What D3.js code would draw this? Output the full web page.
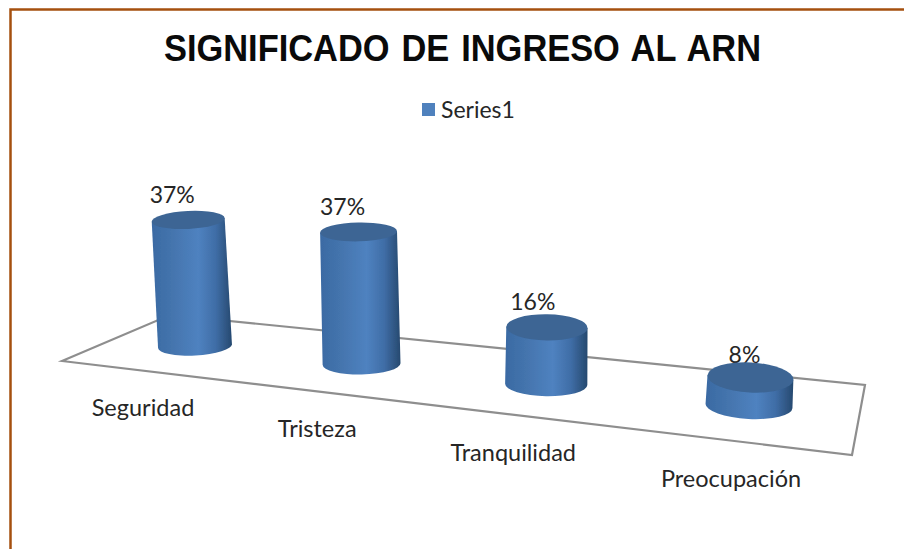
<!DOCTYPE html>
<html>
<head>
<meta charset="utf-8">
<script src="https://cdn.jsdelivr.net/npm/d3@7"></script>
<style>
  html, body { margin: 0; padding: 0; background: #fff; }
  svg { display: block; }
</style>
</head>
<body>
<svg id="chart"></svg>
<script>
const categories = ["Seguridad", "Tristeza", "Tranquilidad", "Preocupación"];
const values = [37, 37, 16, 8];
const seriesName = "Series1";
const chartTitle = "SIGNIFICADO DE INGRESO AL ARN";

const width = 904;
const height = 549;
const labelFont = "Lato, 'Open Sans', sans-serif";

const svg = d3.select("#chart")
  .attr("width", width)
  .attr("height", height);

const defs = svg.append("defs");

// gradient shared by all the cylinder sides
const grad = defs.append("linearGradient")
  .attr("id", "side")
  .attr("x1", 0).attr("x2", 1).attr("y1", 0).attr("y2", 0);
[[0, "#3a6aa3"], [0.25, "#4474ad"], [0.58, "#4f82c0"], [0.8, "#3f6da6"], [1, "#26496f"]].forEach(s => {
  grad.append("stop").attr("offset", s[0]).attr("stop-color", s[1]);
});

// the reference is a soft screenshot
defs.append("filter").attr("id", "soft")
  .append("feGaussianBlur").attr("stdDeviation", 0.5);

// outer frame, only left and top sides show up in the picture
svg.append("path")
  .attr("d", "M10.5,549V9.5H904")
  .attr("fill", "none")
  .attr("stroke", "#a5500f")
  .attr("stroke-width", 2.5);

// title is squeezed sideways in the reference
svg.append("text")
  .attr("x", 462.5).attr("y", 61)
  .attr("text-anchor", "middle")
  .attr("font-family", "'Liberation Sans', Arial, sans-serif")
  .attr("font-weight", "bold")
  .attr("font-size", 36)
  .attr("word-spacing", 2.5)
  .attr("textLength", 597)
  .attr("lengthAdjust", "spacingAndGlyphs")
  .attr("fill", "#0a0a0a")
  .text(chartTitle);

// legend
svg.append("rect")
  .attr("x", 422).attr("y", 103).attr("width", 13).attr("height", 13)
  .attr("fill", "#4f81bd");
svg.append("text")
  .attr("x", 441).attr("y", 118)
  .attr("font-family", labelFont)
  .attr("font-size", 23)
  .attr("fill", "#262626")
  .text(seriesName);

// floor of the 3d plot
const floor = d3.line();
svg.append("path")
  .attr("d", floor([[62, 361], [170, 315], [865, 385], [852, 455]]) + "Z")
  .attr("fill", "none")
  .attr("stroke", "#8e8e8e")
  .attr("stroke-width", 2.2)
  .attr("filter", "url(#soft)");

// scales, spacing grows towards the viewer so x is a shifted pow
const index = categories.map((d, i) => i);
const xShift = 8.7, labelShift = 7.5;
const x = d3.scalePow().exponent(2).domain([xShift, xShift + 3]).range([195, 749]);
const baseY = d3.scalePow().exponent(1.1).domain([0, 3]).range([346, 406]);
const h = d3.scaleLinear().domain([0, 37]).range([0, 132]);
const depth = d3.scaleLinear().domain([195, 361, 749]).range([0.955, 1, 1]);
const rx = d3.scaleLinear().domain([195, 749]).range([37, 43.5]);
const tilt = d3.scaleLinear().domain([190, 750]).range([-3, 3]);
const lean = d3.scaleLinear().domain([195, 749]).range([-0.054, 0.05]);
const topRy = d3.scaleLinear().domain([220, 377]).range([9, 15]);
const baseRy = d3.scaleLinear().domain([346, 406]).range([9.5, 13]);
const valGap = d3.scaleLinear().domain([330, 377]).range([17, 14]).clamp(true);
const labelX = d3.scalePow().exponent(2).domain([labelShift, labelShift + 3]).range([143, 731]);
const labelY = d3.scalePow().exponent(1.1).domain([0, 3]).range([416, 487]);

function cyl(i) {
  const bx = x(i + xShift), by = baseY(i), ht = h(values[i]) * depth(bx);
  const tx = bx + lean(bx) * ht, ty = by - ht;
  const a = tilt(bx), rad = a * Math.PI / 180;
  const r = rx(bx), rt = r - 0.5;
  return {
    bx, by, tx, ty, a, r, rt,
    bry: baseRy(by), try_: topRy(ty),
    dx: Math.cos(rad), dy: Math.sin(rad)
  };
}
const cyls = index.map(cyl);

// value labels go under the cylinders, the tops cover the 8%
svg.selectAll(".val")
  .data(cyls)
  .join("text")
  .attr("class", "val")
  .attr("x", d => d.tx - 16 + (d.tx > 500 ? (d.tx - 500) * 0.04 : 0))
  .attr("y", d => d.ty - valGap(d.ty))
  .attr("text-anchor", "middle")
  .attr("font-family", labelFont)
  .attr("font-size", 23)
  .attr("fill", "#262626")
  .text((d, i) => values[i] + "%");

const cylLayer = svg.append("g").attr("filter", "url(#soft)");

cylLayer.selectAll(".side")
  .data(cyls)
  .join("path")
  .attr("class", "side")
  .attr("fill", "url(#side)")
  .attr("d", d => {
    const tl = [d.tx - d.rt * d.dx, d.ty - d.rt * d.dy];
    const tr = [d.tx + d.rt * d.dx, d.ty + d.rt * d.dy];
    const bl = [d.bx - d.r * d.dx, d.by - d.r * d.dy];
    const br = [d.bx + d.r * d.dx, d.by + d.r * d.dy];
    return `M${tl}L${bl}A${d.r},${d.bry} ${d.a} 0 0 ${br}L${tr}Z`;
  });

cylLayer.selectAll(".top")
  .data(cyls)
  .join("ellipse")
  .attr("class", "top")
  .attr("rx", d => d.rt)
  .attr("ry", d => d.try_)
  .attr("transform", d => `translate(${d.tx},${d.ty}) rotate(${d.a})`)
  .attr("fill", "#3c6594");

svg.selectAll(".cat")
  .data(categories)
  .join("text")
  .attr("class", "cat")
  .attr("x", (d, i) => labelX(i + labelShift))
  .attr("y", (d, i) => labelY(i))
  .attr("text-anchor", "middle")
  .attr("font-family", labelFont)
  .attr("font-size", 23.5)
  .attr("fill", "#262626")
  .text(d => d);
</script>
</body>
</html>
